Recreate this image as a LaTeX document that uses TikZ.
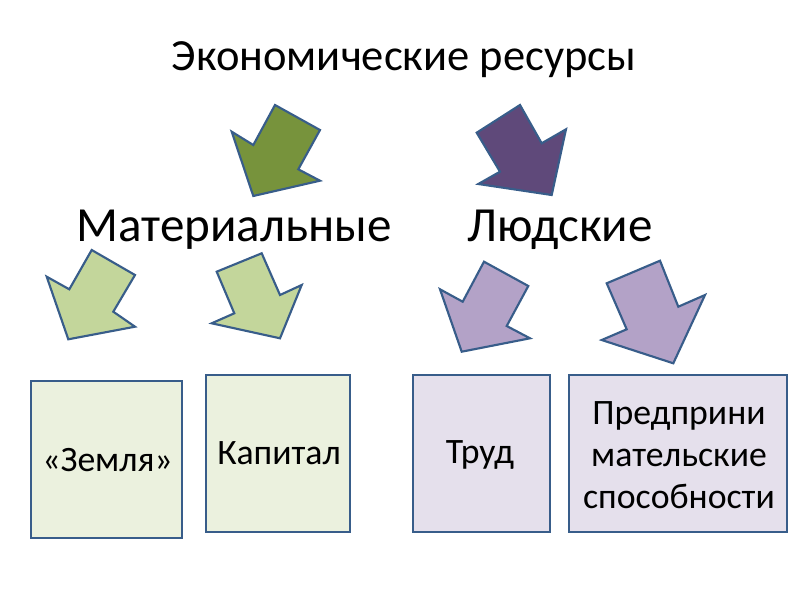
\documentclass[tikz,border=0pt]{standalone}
\usepackage{fontspec}
\setmainfont{Carlito}
\definecolor{olive}{HTML}{77933C}
\definecolor{plum}{HTML}{5F497A}
\definecolor{lgreen}{HTML}{C3D69B}
\definecolor{lpurple}{HTML}{B3A2C7}
\definecolor{bgreen}{HTML}{EBF1DE}
\definecolor{bpurple}{HTML}{E5E0EC}
\definecolor{edge}{HTML}{385D8A}
\begin{document}
\begin{tikzpicture}[x=0.75pt,y=-0.75pt,
  arr/.style={draw=edge,line width=1.6pt,line join=miter},
  box/.style={draw=edge,line width=1.3pt},
  lbl/.style={font=\fontsize{26.8}{31.5}\selectfont,align=center,inner sep=0pt}]
\useasboundingbox (0,0) rectangle (800,600);
\node[font=\fontsize{33.4}{40}\selectfont,inner sep=0pt] (title) at (404,60) {Экономические ресурсы};
\node[font=\fontsize{36.8}{44}\selectfont,inner sep=0pt] (mat) at (234,230) {Материальные};
\node[font=\fontsize{36.8}{44}\selectfont,inner sep=0pt] (lud) at (560,230) {Людские};
% arrows
\filldraw[arr,fill=olive] (275,105) -- (320,130) -- (298.3,169.3) -- (320,180.7) -- (253.3,196) -- (231.7,131.7) -- (253.3,145) -- cycle;
\filldraw[arr,fill=plum] (520,105) -- (541.7,143.3) -- (566,129.3) -- (551.7,195) -- (478.3,184) -- (500,171.7) -- (476.7,132.7) -- cycle;
\filldraw[arr,fill=lgreen] (91.7,250) -- (135,275) -- (113.3,311.7) -- (135,326.7) -- (68.3,339.3) -- (46.7,276.7) -- (69.3,289.3) -- cycle;
\filldraw[arr,fill=lgreen] (216.7,271.7) -- (261.7,253.3) -- (280,295) -- (301.7,285) -- (280,338.3) -- (211.7,323.3) -- (234.3,313.3) -- cycle;
\filldraw[arr,fill=lpurple] (484,261.7) -- (528.3,286) -- (506.7,326) -- (530,338.3) -- (461.7,351.7) -- (440,289.3) -- (462.7,301.7) -- cycle;
\filldraw[arr,fill=lpurple] (606.7,283.3) -- (660,260.7) -- (678.3,306.7) -- (705,295) -- (673.3,363.3) -- (601.7,340) -- (626.7,329.3) -- cycle;
% boxes
\filldraw[box,fill=bgreen] (31,380.7) rectangle (181.7,538.3);
\filldraw[box,fill=bgreen] (205.7,375) rectangle (350,531.7);
\filldraw[box,fill=bpurple] (412.7,375) rectangle (550,531.7);
\filldraw[box,fill=bpurple] (569.3,375) rectangle (786.7,531.7);
\node[lbl] (zem) at (107.5,460) {«Земля»};
\node[lbl] (kap) at (279,453) {Капитал};
\node[lbl] (trud) at (480,455) {Труд};
\node[lbl] (pred) at (679,455) {Предприни\\мательские\\способности};
\end{tikzpicture}
\end{document}
